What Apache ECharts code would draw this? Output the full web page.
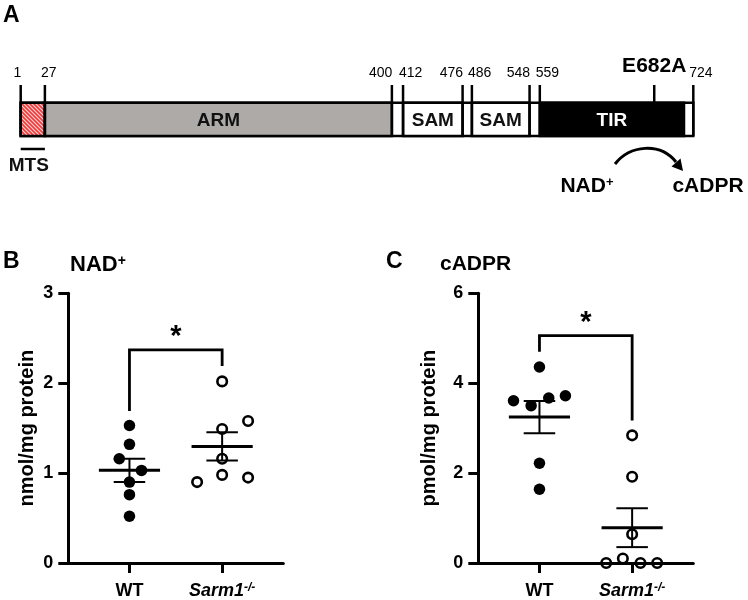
<!DOCTYPE html>
<html><head><meta charset="utf-8">
<script src="https://cdn.jsdelivr.net/npm/echarts@6/dist/echarts.min.js"></script>
<style>html,body{margin:0;padding:0;background:#fff}#c{width:748px;height:600px}</style>
</head><body><div id="c"></div><script>
// ---------- Panel A : SARM1 domain map ----------
const proteinLength = 724;
const domainNames  = ['MTS', 'ARM', 'SAM', 'SAM', 'TIR'];
const domainStarts = [1, 27, 412, 486, 559];
const domainEnds   = [27, 400, 476, 548, 714];
const boundaryResidues = [1, 27, 400, 412, 476, 486, 548, 559, 724];
const mutationResidue = 682;
const mutationLabel = 'E682A';

// ---------- Panel B : NAD+ ----------
const groups = ['WT', 'Sarm1-/-'];
const nadWT       = [1.53, 1.32, 1.16, 1.03, 0.90, 0.76, 0.52];
const nadWTJitter = [0, 0, -0.11, 0.13, 0, 0, 0];
const nadKO       = [2.02, 1.58, 1.49, 1.16, 0.98, 0.95, 0.90];
const nadKOJitter = [0, 0.28, 0, 0, 0, 0.28, -0.27];
const nadBracket  = [1.69, 2.37, 2.19];   // WT end, top, KO end
const nadTicks    = [0, 3, 1];            // min, max, interval

// ---------- Panel C : cADPR ----------
const cadprWT       = [4.36, 3.72, 3.67, 3.61, 3.50, 2.22, 1.64];
const cadprWTJitter = [0, 0.28, 0.10, -0.28, -0.09, 0, 0];
const cadprKO       = [2.84, 1.92, 0.64, 0.10, 0, 0, 0];
const cadprKOJitter = [0, 0, 0, -0.10, -0.28, 0.09, 0.27];
const cadprBracket  = [4.70, 5.06, 3.17];
const cadprTicks    = [0, 6, 2];

const FONT = '"Liberation Sans", Arial, Helvetica, sans-serif';

function meanSem(a) {
  const n = a.length, m = a.reduce((s, v) => s + v, 0) / n;
  const sd = Math.sqrt(a.reduce((s, v) => s + (v - m) * (v - m), 0) / (n - 1));
  return [m, sd / Math.sqrt(n)];
}

function hatchCanvas() {
  const c = document.createElement('canvas');
  c.width = 4; c.height = 4;
  const g = c.getContext('2d');
  g.fillStyle = '#ee3b3b'; g.fillRect(0, 0, 4, 4);
  g.strokeStyle = '#ffd6d6'; g.lineWidth = 1.1;
  g.beginPath();
  g.moveTo(0, 0); g.lineTo(4, 4);
  g.moveTo(-2, 2); g.lineTo(2, 6);
  g.moveTo(2, -2); g.lineTo(6, 2);
  g.stroke();
  return c;
}
const hatch = hatchCanvas();

const chart = echarts.init(document.getElementById('c'), null, {renderer: 'canvas'});

// ----- Panel A renderers -----
function renderBackbone(params, api) {
  const cs = params.coordSys;
  const s = api.coord([api.value(0), 0]), e = api.coord([api.value(1), 0]);
  return {type: 'rect', shape: {x: s[0], y: cs.y, width: e[0] - s[0], height: cs.height},
    style: {fill: '#fff', stroke: '#000', lineWidth: 2.5}};
}
function renderDomain(params, api) {
  const cs = params.coordSys;
  const i = api.value(0);
  const name = domainNames[i];
  const s = api.coord([api.value(1), 0]), e = api.coord([api.value(2), 0]);
  let fill = '#fff', tcol = '#111';
  if (name === 'ARM') fill = '#adaaa8';
  if (name === 'TIR') { fill = '#000'; tcol = '#fff'; }
  if (name === 'MTS') fill = {image: hatch, repeat: 'repeat'};
  const children = [
    {type: 'rect', shape: {x: s[0], y: cs.y, width: e[0] - s[0], height: cs.height},
      style: {fill: fill, stroke: '#000', lineWidth: 2.5}}
  ];
  if (name === 'MTS') {
    children.push({type: 'line', shape: {x1: s[0], y1: cs.y + cs.height + 13, x2: e[0], y2: cs.y + cs.height + 13},
      style: {stroke: '#000', lineWidth: 2.5}});
    children.push({type: 'text', style: {text: name, x: (s[0] + e[0]) / 2 - 4, y: cs.y + cs.height + 30,
      align: 'center', verticalAlign: 'middle', font: 'bold 19px ' + FONT, fill: '#111'}});
  } else {
    children.push({type: 'text', style: {text: name, x: (s[0] + e[0]) / 2, y: cs.y + cs.height / 2 + 1,
      align: 'center', verticalAlign: 'middle', font: 'bold 19px ' + FONT, fill: tcol}});
  }
  return {type: 'group', children: children};
}
function renderBoundary(params, api) {
  const cs = params.coordSys;
  const idx = params.dataIndex;
  const r = api.value(0);
  const p = api.coord([r, 0]);
  let align = 'left', tx = p[0] - 4;
  if (idx < boundaryResidues.length - 1) {
    const nx = api.coord([boundaryResidues[idx + 1], 0])[0];
    if (nx - p[0] < 30) { align = 'right'; tx = p[0] + 0.5; }
  }
  return {type: 'group', children: [
    {type: 'line', shape: {x1: p[0], y1: cs.y - 17.7, x2: p[0], y2: cs.y + cs.height},
      style: {stroke: '#000', lineWidth: 2.5}},
    {type: 'text', style: {text: String(r), x: tx, y: cs.y - 29.5, align: align, verticalAlign: 'middle',
      font: '14px ' + FONT, fill: '#000'}}
  ]};
}
function renderMutation(params, api) {
  const cs = params.coordSys;
  const p = api.coord([api.value(0), 0]);
  return {type: 'group', children: [
    {type: 'line', shape: {x1: p[0], y1: cs.y - 17.7, x2: p[0], y2: cs.y}, style: {stroke: '#000', lineWidth: 2.5}},
    {type: 'text', style: {text: mutationLabel, x: p[0], y: cs.y - 36, align: 'center', verticalAlign: 'middle',
      font: 'bold 21px ' + FONT, fill: '#000'}}
  ]};
}

// ----- Panel B/C renderers -----
function renderMeanSem(params, api) {
  const x = api.value(0), m = api.value(1), se = api.value(2);
  const c = api.coord([x, m]), hi = api.coord([x, m + se]), lo = api.coord([x, m - se]);
  const mh = api.size([0.33, 0])[0], ch = api.size([0.17, 0])[0];
  const st = {stroke: '#000', lineWidth: 2};
  return {type: 'group', children: [
    {type: 'line', shape: {x1: c[0] - mh, y1: c[1], x2: c[0] + mh, y2: c[1]}, style: {stroke: '#000', lineWidth: 3}},
    {type: 'line', shape: {x1: c[0], y1: hi[1], x2: c[0], y2: lo[1]}, style: st},
    {type: 'line', shape: {x1: c[0] - ch, y1: hi[1], x2: c[0] + ch, y2: hi[1]}, style: st},
    {type: 'line', shape: {x1: c[0] - ch, y1: lo[1], x2: c[0] + ch, y2: lo[1]}, style: st}
  ]};
}
function renderBracket(params, api) {
  const a = api.coord([1, api.value(0)]), t1 = api.coord([1, api.value(1)]), t2 = api.coord([2, api.value(1)]), b = api.coord([2, api.value(2)]);
  return {type: 'group', children: [
    {type: 'polyline', shape: {points: [a, t1, t2, b]}, style: {stroke: '#000', lineWidth: 2.8, fill: null}},
    {type: 'text', style: {text: '*', x: (t1[0] + t2[0]) / 2, y: t1[1] - 13, align: 'center', verticalAlign: 'middle',
      font: 'bold 29px ' + FONT, fill: '#000'}}
  ]};
}

const xLabelRich = {
  b: {fontFamily: FONT, fontWeight: 'bold', fontSize: 18, color: '#000'},
  i: {fontFamily: FONT, fontWeight: 'bold', fontStyle: 'italic', fontSize: 18, color: '#000'},
  s: {fontFamily: FONT, fontWeight: 'bold', fontStyle: 'italic', fontSize: 12, color: '#000', verticalAlign: 'top'}
};
function xAxisFor(gi) {
  return {gridIndex: gi, type: 'value', min: 0.34, max: 2.66,
    axisLine: {show: true, onZero: false, lineStyle: {color: '#000', width: 3}},
    axisTick: {show: true, customValues: [1, 2], length: 10, lineStyle: {color: '#000', width: 3}},
    axisLabel: {show: true, customValues: [1, 2], margin: 19,
      formatter: v => Math.round(v) === 1 ? '{b|' + groups[0] + '}' : '{i|Sarm1}{s|-/-}', rich: xLabelRich},
    splitLine: {show: false}};
}
function yAxisFor(gi, ticks, name, gap) {
  return {gridIndex: gi, type: 'value', min: ticks[0], max: ticks[1], interval: ticks[2],
    axisLine: {show: true, lineStyle: {color: '#000', width: 3}},
    axisTick: {show: true, length: 10, lineStyle: {color: '#000', width: 3}},
    axisLabel: {margin: 15, fontFamily: FONT, fontWeight: 'bold', fontSize: 18, color: '#000'},
    splitLine: {show: false},
    name: name, nameLocation: 'middle', nameGap: gap, nameRotate: 90,
    nameTextStyle: {fontFamily: FONT, fontWeight: 'bold', fontSize: 20, color: '#000'}};
}
function pts(vals, jit, g) { return vals.map((v, i) => [g + jit[i], v]); }
function panelSeries(gi, wt, wtJ, ko, koJ, bracket) {
  const mw = meanSem(wt), mk = meanSem(ko);
  return [
    {type: 'scatter', xAxisIndex: gi, yAxisIndex: gi, data: pts(wt, wtJ, 1), symbol: 'circle', symbolSize: 11.5,
      itemStyle: {color: '#000', opacity: 1}, z: 3},
    {type: 'scatter', xAxisIndex: gi, yAxisIndex: gi, data: pts(ko, koJ, 2), symbol: 'circle', symbolSize: 9.5,
      itemStyle: {color: 'rgba(0,0,0,0)', borderColor: '#000', borderWidth: 2.6, opacity: 1}, z: 3},
    {type: 'custom', xAxisIndex: gi, yAxisIndex: gi, renderItem: renderMeanSem, clip: false, z: 4,
      data: [[1, mw[0], mw[1]], [2, mk[0], mk[1]]]},
    {type: 'custom', xAxisIndex: gi, yAxisIndex: gi, renderItem: renderBracket, clip: false, z: 4,
      encode: {y: [0, 1, 2]}, data: [bracket]}
  ];
}

const option = {
  animation: false,
  backgroundColor: '#fff',
  textStyle: {fontFamily: FONT},
  grid: [
    {left: 20.7, top: 102.7, width: 672.6, height: 33.3},
    {left: 68.3, top: 293.3, width: 215, height: 270},
    {left: 478.3, top: 293.3, width: 215, height: 270}
  ],
  xAxis: [
    {gridIndex: 0, type: 'value', min: 1, max: proteinLength, show: false},
    xAxisFor(1), xAxisFor(2)
  ],
  yAxis: [
    {gridIndex: 0, type: 'value', min: 0, max: 1, show: false},
    yAxisFor(1, nadTicks, 'nmol/mg protein', 31),
    yAxisFor(2, cadprTicks, 'pmol/mg protein', 39)
  ],
  graphic: [
    {type: 'text', left: 3, top: 4, style: {text: 'A', font: 'bold 23px ' + FONT, fill: '#000'}},
    {type: 'text', left: 3, top: 250, style: {text: 'B', font: 'bold 23px ' + FONT, fill: '#000'}},
    {type: 'text', left: 386, top: 250, style: {text: 'C', font: 'bold 23px ' + FONT, fill: '#000'}},
    {type: 'text', left: 70, top: 254, style: {text: '{a|NAD}{s|+}', rich: {
      a: {fontFamily: FONT, fontWeight: 'bold', fontSize: 22, fill: '#000'},
      s: {fontFamily: FONT, fontWeight: 'bold', fontSize: 14, fill: '#000', verticalAlign: 'top'}}}},
    {type: 'text', left: 440, top: 254, style: {text: 'cADPR', font: 'bold 21px ' + FONT, fill: '#000'}},
    {type: 'bezierCurve', shape: {x1: 615, y1: 164, cpx1: 630, cpy1: 145, cpx2: 660, cpy2: 142, x2: 676, y2: 162},
      style: {stroke: '#000', lineWidth: 3, fill: null}},
    {type: 'polygon', shape: {points: [[683, 171], [671.5, 166.5], [680.5, 158.5]]}, style: {fill: '#000'}},
    {type: 'text', x: 587, y: 186, style: {text: '{a|NAD}{s|+}', align: 'center', verticalAlign: 'middle', rich: {
      a: {fontFamily: FONT, fontWeight: 'bold', fontSize: 21, fill: '#000'},
      s: {fontFamily: FONT, fontWeight: 'bold', fontSize: 13, fill: '#000', verticalAlign: 'top'}}}},
    {type: 'text', x: 708, y: 186, style: {text: 'cADPR', align: 'center', verticalAlign: 'middle',
      font: 'bold 21px ' + FONT, fill: '#000'}}
  ],
  series: [
    {type: 'custom', xAxisIndex: 0, yAxisIndex: 0, renderItem: renderBackbone, clip: false, z: 2,
      encode: {x: [0, 1]}, data: [[1, proteinLength]]},
    {type: 'custom', xAxisIndex: 0, yAxisIndex: 0, renderItem: renderDomain, clip: false, z: 3,
      encode: {x: [1, 2]}, data: domainNames.map((n, i) => [i, domainStarts[i], domainEnds[i]])},
    {type: 'custom', xAxisIndex: 0, yAxisIndex: 0, renderItem: renderBoundary, clip: false, z: 4,
      encode: {x: 0}, data: boundaryResidues.map(r => [r])},
    {type: 'custom', xAxisIndex: 0, yAxisIndex: 0, renderItem: renderMutation, clip: false, z: 4,
      encode: {x: 0}, data: [[mutationResidue]]},
    ...panelSeries(1, nadWT, nadWTJitter, nadKO, nadKOJitter, nadBracket),
    ...panelSeries(2, cadprWT, cadprWTJitter, cadprKO, cadprKOJitter, cadprBracket)
  ]
};
chart.setOption(option);
</script></body></html>
